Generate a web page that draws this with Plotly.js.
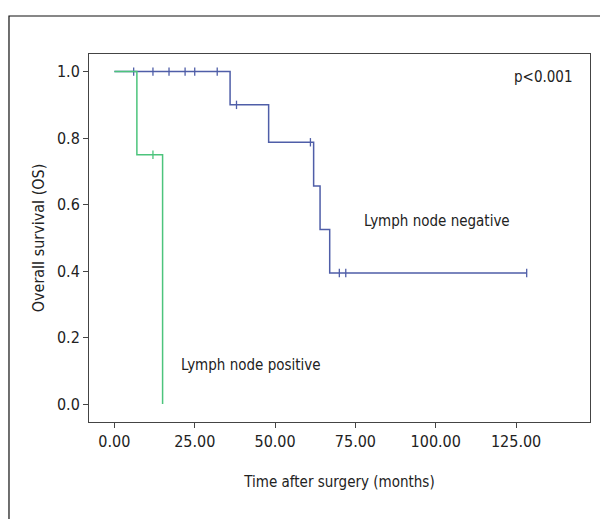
<!DOCTYPE html>
<html>
<head>
<meta charset="utf-8">
<script src="https://cdn.plot.ly/plotly-3.0.1.min.js"></script>
<style>
  html, body { margin: 0; padding: 0; background: #fff; }
  #chart { width: 600px; height: 519px; }
</style>
</head>
<body>
<div id="chart"></div>
<script>
// Lymph node negative: Kaplan-Meier step points
const negTime = [0, 36, 48, 62, 64, 67, 128.3];
const negSurv = [1.0, 0.9, 0.7875, 0.656, 0.525, 0.394, 0.394];
const negCensorTime = [6, 12, 17, 22, 25, 32, 38, 61, 70, 72, 128.3];
const negCensorSurv = [1.0, 1.0, 1.0, 1.0, 1.0, 1.0, 0.9, 0.7875, 0.394, 0.394, 0.394];

// Lymph node positive
const posTime = [0, 7, 15];
const posSurv = [1.0, 0.75, 0.0];
const posCensorTime = [12];
const posCensorSurv = [0.75];

const xTickVals = [0, 25, 50, 75, 100, 125];
const xTickText = ['0.00', '25.00', '50.00', '75.00', '100.00', '125.00'];
const yTickVals = [0, 0.2, 0.4, 0.6, 0.8, 1.0];
const yTickText = ['0.0', '0.2', '0.4', '0.6', '0.8', '1.0'];

const blue = '#4f5ea8';
const green = '#4cc47c';
const FONT = '"Liberation Sans Narrow", "DejaVu Sans Condensed", "Roboto Condensed", sans-serif';

const traces = [
  { x: negTime, y: negSurv, mode: 'lines', line: { color: blue, width: 1.5, shape: 'hv' }, hoverinfo: 'skip', name: 'negative' },
  { x: negCensorTime, y: negCensorSurv, mode: 'markers', marker: { symbol: 'line-ns-open', size: 6, color: blue, line: { color: blue, width: 1.3 } }, hoverinfo: 'skip' },
  { x: posTime, y: posSurv, mode: 'lines', line: { color: green, width: 1.5, shape: 'hv' }, hoverinfo: 'skip', name: 'positive' },
  { x: posCensorTime, y: posCensorSurv, mode: 'markers', marker: { symbol: 'line-ns-open', size: 6, color: green, line: { color: green, width: 1.3 } }, hoverinfo: 'skip' }
];

const layout = {
  width: 600, height: 519,
  margin: { l: 89, r: 10, t: 54, b: 97 },
  paper_bgcolor: '#ffffff', plot_bgcolor: '#ffffff',
  showlegend: false,
  font: { family: FONT, size: 16, color: '#222' },
  xaxis: {
    range: [-7.9, 148], tickmode: 'array', tickvals: xTickVals, ticktext: xTickText,
    showgrid: false, zeroline: false, showline: true, linecolor: '#444', linewidth: 1, mirror: true,
    ticks: 'outside', ticklen: 5, tickcolor: '#444', tickfont: { family: FONT, size: 16, color: '#222' },
    title: { text: 'Time after surgery (months)', font: { family: FONT, size: 15, color: '#222' }, standoff: 26 }
  },
  yaxis: {
    range: [-0.054, 1.053], tickmode: 'array', tickvals: yTickVals, ticktext: yTickText,
    showgrid: false, zeroline: false, showline: true, linecolor: '#444', linewidth: 1, mirror: true,
    ticks: 'outside', ticklen: 5, tickcolor: '#444', tickfont: { family: FONT, size: 16, color: '#222' },
    title: { text: 'Overall survival (OS)', font: { family: FONT, size: 16, color: '#222' }, standoff: 8 }
  },
  annotations: [
    { x: 143.4, y: 0.984, xref: 'x', yref: 'y', text: 'p<0.001', showarrow: false, xanchor: 'right', yanchor: 'middle', font: { family: FONT, size: 15, color: '#222' } },
    { x: 100.4, y: 0.55, xref: 'x', yref: 'y', text: 'Lymph node negative', showarrow: false, xanchor: 'center', yanchor: 'middle', font: { family: FONT, size: 15, color: '#222' } },
    { x: 42.6, y: 0.117, xref: 'x', yref: 'y', text: 'Lymph node positive', showarrow: false, xanchor: 'center', yanchor: 'middle', font: { family: FONT, size: 15, color: '#222' } }
  ],
  shapes: [
    { type: 'rect', xref: 'paper', yref: 'paper', x0: -0.1597, x1: 1.2, y0: -0.5, y1: 1.1033, line: { color: '#111', width: 1.2 }, fillcolor: 'rgba(0,0,0,0)', layer: 'below' }
  ]
};

Plotly.newPlot('chart', traces, layout, { staticPlot: true, displayModeBar: false });
</script>
</body>
</html>
